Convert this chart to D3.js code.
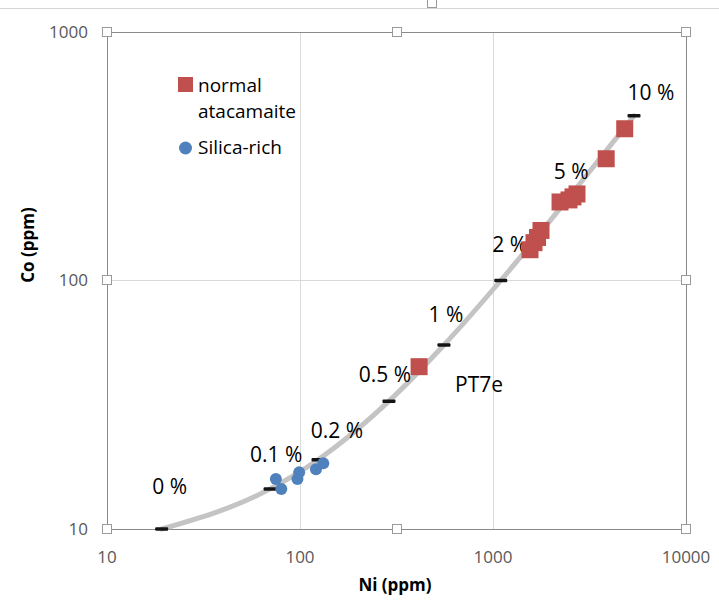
<!DOCTYPE html>
<html lang="en">
<head>
    <meta charset="UTF-8">
    <title>Co vs Ni</title>
    <script src="https://cdnjs.cloudflare.com/ajax/libs/d3/7.8.5/d3.min.js"></script>
    <style>
        body {
            margin: 0;
            background: #fff;
            font-family: "Open Sans", sans-serif;
        }
        .tick-label {
            font-size: 17px;
            fill: #595959;
        }
        .axis-title {
            font-size: 17px;
            font-weight: bold;
            fill: #000;
        }
        .pct-label {
            font-size: 21px;
            fill: #000;
        }
        .legend text {
            font-size: 19px;
            fill: #000;
        }
    </style>
</head>
<body>
    <div id="chart"></div>

    <script>
        // axis ticks
        const niTicks = [10, 100, 1000, 10000];
        const coTicks = [10, 100, 1000];

        // mixing curve (percent marks)
        const mixLabels = ["0 %", "0.1 %", "0.2 %", "0.5 %", "1 %", "2 %", "5 %", "10 %"];
        const mixNi = [19.2, 70, 124, 289, 557, 1097, 2700, 5378];
        const mixCo = [10, 14.5, 19, 32.7, 55, 100, 235, 460];

        // normal atacamaite
        const normalNi = [414, 1555, 1631, 1701, 1773, 2225, 2476, 2597, 2724, 3859, 4814];
        const normalCo = [45, 133, 142, 149, 159, 207, 211, 217, 223, 309, 408];

        // silica-rich
        const silicaNi = [75, 80, 99, 97, 121, 132];
        const silicaCo = [15.9, 14.5, 16.9, 15.9, 17.4, 18.4];

        // label offsets from each percent mark (px)
        const labelDx = [8, 6, 19, -4, 2, 9, -5, 17];
        const labelDy = [-35, -27, -22, -19, -23, -29, -9, -16];

        const W = 719, H = 603;
        const plot = { left: 107, right: 686, top: 32, bottom: 529 };

        const svg = d3.select("#chart")
            .append("svg")
            .attr("width", W)
            .attr("height", H);

        const x = d3.scaleLog()
            .domain([10, 10000])
            .range([plot.left, plot.right]);

        const y = d3.scaleLog()
            .domain([10, 1000])
            .range([plot.bottom, plot.top]);

        // top selection line
        svg.append("line")
            .attr("x1", 0).attr("x2", W)
            .attr("y1", 8.5).attr("y2", 8.5)
            .attr("stroke", "#d4d4d4")
            .attr("stroke-width", 1);

        // gridlines
        svg.append("g")
            .selectAll("line")
            .data(niTicks.slice(1, -1))
            .enter()
            .append("line")
            .attr("x1", d => Math.round(x(d)) + 0.5)
            .attr("x2", d => Math.round(x(d)) + 0.5)
            .attr("y1", plot.top)
            .attr("y2", plot.bottom)
            .attr("stroke", "#d9d9d9");

        svg.append("g")
            .selectAll("line")
            .data(coTicks.slice(1, -1))
            .enter()
            .append("line")
            .attr("y1", d => Math.round(y(d)) + 0.5)
            .attr("y2", d => Math.round(y(d)) + 0.5)
            .attr("x1", plot.left)
            .attr("x2", plot.right)
            .attr("stroke", "#d9d9d9");

        // plot frame
        svg.append("rect")
            .attr("x", plot.left + 0.5)
            .attr("y", plot.top + 0.5)
            .attr("width", plot.right - plot.left)
            .attr("height", plot.bottom - plot.top)
            .attr("fill", "none")
            .attr("stroke", "#8a8a8a");

        // tick labels
        svg.append("g")
            .selectAll("text")
            .data(niTicks)
            .enter()
            .append("text")
            .attr("class", "tick-label")
            .attr("x", d => x(d))
            .attr("y", plot.bottom + 34)
            .attr("text-anchor", "middle")
            .text(d => d);

        svg.append("g")
            .selectAll("text")
            .data(coTicks)
            .enter()
            .append("text")
            .attr("class", "tick-label")
            .attr("x", plot.left - 19)
            .attr("y", d => y(d))
            .attr("dy", "0.35em")
            .attr("text-anchor", "end")
            .text(d => d);

        // axis titles
        svg.append("text")
            .attr("class", "axis-title")
            .attr("x", 395)
            .attr("y", 591)
            .attr("text-anchor", "middle")
            .text("Ni (ppm)");

        svg.append("text")
            .attr("class", "axis-title")
            .attr("transform", "translate(34,245) rotate(-90)")
            .attr("text-anchor", "middle")
            .text("Co (ppm)");

        // mixing curve
        const mix = mixNi.map((d, i) => ({ ni: d, co: mixCo[i], label: mixLabels[i], dx: labelDx[i], dy: labelDy[i] }));

        const line = d3.line()
            .x(d => x(d.ni))
            .y(d => y(d.co))
            .curve(d3.curveMonotoneX);

        svg.append("path")
            .datum(mix)
            .attr("d", line)
            .attr("fill", "none")
            .attr("stroke", "#c4c4c4")
            .attr("stroke-width", 5)
            .attr("stroke-linecap", "round");

        svg.append("g")
            .selectAll("rect")
            .data(mix)
            .enter()
            .append("rect")
            .attr("x", d => x(d.ni) - 6.5)
            .attr("y", d => y(d.co) - 1.75)
            .attr("width", 13)
            .attr("height", 3.5)
            .attr("rx", 1)
            .attr("fill", "#141414");

        svg.append("g")
            .selectAll("text")
            .data(mix)
            .enter()
            .append("text")
            .attr("class", "pct-label")
            .attr("x", d => x(d.ni) + d.dx)
            .attr("y", d => y(d.co) + d.dy)
            .attr("text-anchor", "middle")
            .text(d => d.label);

        // silica-rich points
        svg.append("g")
            .selectAll("circle")
            .data(silicaNi.map((d, i) => ({ ni: d, co: silicaCo[i] })))
            .enter()
            .append("circle")
            .attr("cx", d => x(d.ni))
            .attr("cy", d => y(d.co))
            .attr("r", 6)
            .attr("fill", "#4f81bd");

        // normal atacamaite points
        svg.append("g")
            .selectAll("rect")
            .data(normalNi.map((d, i) => ({ ni: d, co: normalCo[i] })))
            .enter()
            .append("rect")
            .attr("x", d => x(d.ni) - 8.5)
            .attr("y", d => y(d.co) - 8.5)
            .attr("width", 17)
            .attr("height", 17)
            .attr("fill", "#c0504d");

        // PT7e annotation
        svg.append("text")
            .attr("class", "pct-label")
            .attr("x", x(normalNi[0]) + 60)
            .attr("y", y(normalCo[0]) + 25)
            .attr("text-anchor", "middle")
            .text("PT7e");

        // legend
        const legend = svg.append("g").attr("class", "legend");
        legend.append("rect")
            .attr("x", 178).attr("y", 77)
            .attr("width", 15).attr("height", 15)
            .attr("fill", "#c0504d");
        legend.append("text").attr("x", 198).attr("y", 92).text("normal");
        legend.append("text").attr("x", 198).attr("y", 118).text("atacamaite");
        legend.append("circle")
            .attr("cx", 185.5).attr("cy", 148)
            .attr("r", 6.5)
            .attr("fill", "#4f81bd");
        legend.append("text").attr("x", 198).attr("y", 154).text("Silica-rich");

        // selection handles
        const handles = [
            [plot.left, plot.top], [(plot.left + plot.right) / 2, plot.top], [plot.right, plot.top],
            [plot.left, y(100)], [plot.right, y(100)],
            [plot.left, plot.bottom], [(plot.left + plot.right) / 2, plot.bottom], [plot.right, plot.bottom],
            [432, 3]
        ];
        svg.append("g")
            .selectAll("rect")
            .data(handles)
            .enter()
            .append("rect")
            .attr("x", d => Math.round(d[0]) - 4.5)
            .attr("y", d => Math.round(d[1]) - 4.5)
            .attr("width", 9)
            .attr("height", 9)
            .attr("fill", "#fff")
            .attr("stroke", "#9a9a9a");
    </script>
</body>
</html>
